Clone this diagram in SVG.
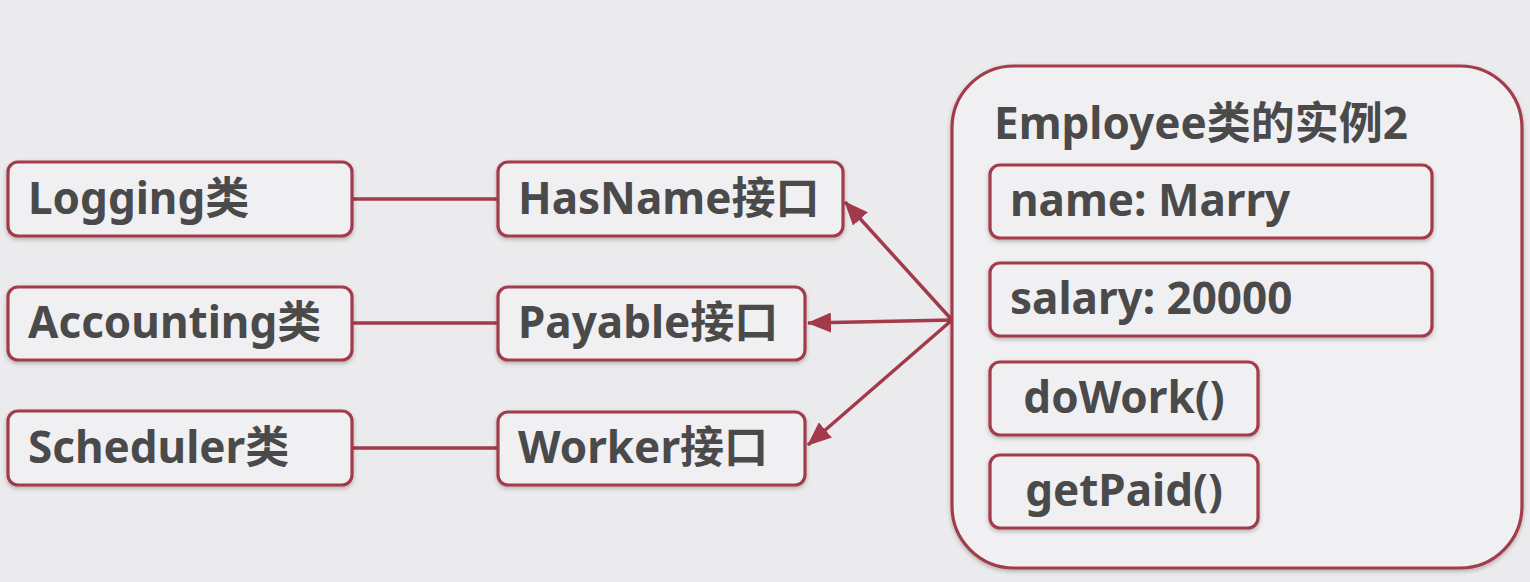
<svg xmlns="http://www.w3.org/2000/svg" width="1530" height="582" viewBox="0 0 1530 582">
<defs>
<style>
.box{fill:#f0f0f2;stroke:#a33a4c;stroke-width:3.2;filter:url(#sh)}
.t{font-family:"Noto Sans","Noto Sans CJK SC",sans-serif;font-weight:bold;font-size:44px;fill:#4a4a4a}
.c{text-anchor:middle}
.ln{stroke:#a33a4c;stroke-width:3.5;fill:none}
</style>
<filter id="sh" x="-10%" y="-10%" width="120%" height="130%">
<feDropShadow dx="0" dy="2" stdDeviation="2" flood-color="#000" flood-opacity="0.25"/>
</filter>
<marker id="ah" viewBox="0 0 24 20" refX="23" refY="10" markerWidth="24" markerHeight="20" markerUnits="userSpaceOnUse" orient="auto">
<path d="M0,0 L24,10 L0,20 z" fill="#a33a4c"/>
</marker>
</defs>
<rect width="1530" height="582" fill="#ebebed"/>
<g id="connectors">
<line class="ln" x1="352" y1="199" x2="498" y2="199"/>
<line class="ln" x1="352" y1="323" x2="498" y2="323"/>
<line class="ln" x1="352" y1="448" x2="498" y2="448"/>
<line class="ln" x1="952" y1="320" x2="845" y2="202" marker-end="url(#ah)"/>
<line class="ln" x1="952" y1="320" x2="808" y2="323" marker-end="url(#ah)"/>
<line class="ln" x1="952" y1="320" x2="808" y2="445" marker-end="url(#ah)"/>
</g>
<g id="logging"><rect class="box" x="8" y="162" width="344" height="74" rx="10"/><text class="t" x="28" y="214">Logging类</text></g>
<g id="accounting"><rect class="box" x="8" y="287" width="344" height="73" rx="10"/><text class="t" x="28" y="338">Accounting类</text></g>
<g id="scheduler"><rect class="box" x="8" y="411" width="344" height="74" rx="10"/><text class="t" x="28" y="463">Scheduler类</text></g>
<g id="hasname"><rect class="box" x="498" y="162" width="345" height="74" rx="10"/><text class="t" x="518" y="214">HasName接口</text></g>
<g id="payable"><rect class="box" x="498" y="287" width="307" height="73" rx="10"/><text class="t" x="518" y="338">Payable接口</text></g>
<g id="worker"><rect class="box" x="498" y="412" width="307" height="73" rx="10"/><text class="t" x="518" y="463">Worker接口</text></g>
<g id="employee">
<rect class="box" x="952" y="66" width="570" height="502" rx="62"/>
<text class="t" x="994" y="139">Employee类的实例2</text>
</g>
<g id="name"><rect class="box" x="990" y="165" width="442" height="73" rx="10"/><text class="t" x="1010" y="216">name: Marry</text></g>
<g id="salary"><rect class="box" x="990" y="263" width="442" height="73" rx="10"/><text class="t" x="1010" y="314">salary: 20000</text></g>
<g id="dowork"><rect class="box" x="990" y="362" width="268" height="73" rx="10"/><text class="t c" x="1124" y="413">doWork()</text></g>
<g id="getpaid"><rect class="box" x="990" y="455" width="268" height="73" rx="10"/><text class="t c" x="1124" y="506">getPaid()</text></g>
</svg>
